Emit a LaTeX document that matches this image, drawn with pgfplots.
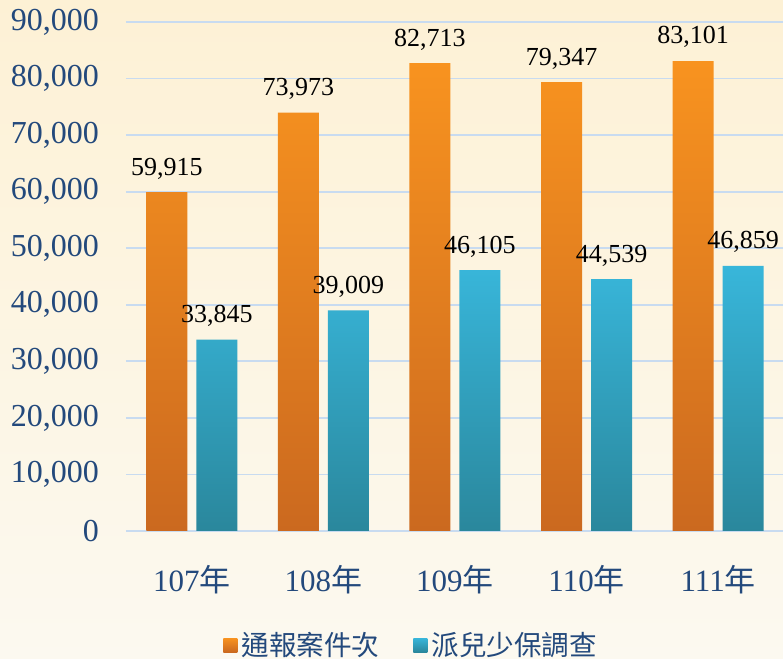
\documentclass[border=0pt]{standalone}
\usepackage{fontspec}
\setmainfont{Liberation Serif}
\newfontfamily\cjk{Noto Sans CJK TC}
\usepackage{pgfplots}
\pgfplotsset{compat=1.18}
\definecolor{tickblue}{HTML}{23497C}
\definecolor{gridblue}{HTML}{C8DBF0}
\definecolor{bgtop}{HTML}{FDF1D5}
\definecolor{bgbot}{HTML}{FCF9F0}
\definecolor{otop}{HTML}{F8931F}
\definecolor{obot}{HTML}{CB691F}
\definecolor{btop}{HTML}{38B6DA}
\definecolor{bbot}{HTML}{2A879C}
\begin{document}
\begin{tikzpicture}
\fill[top color=bgtop, bottom color=bgbot, draw=none] (0,0) rectangle (391.5pt,329.5pt);
\begin{axis}[
  at={(63pt,64pt)}, anchor=south west,
  scale only axis, width=329pt, height=254.5pt,
  xmin=-0.5, xmax=4.5, ymin=0, ymax=90000,
  axis line style={draw=none},
  major tick length=0pt,
  ymajorgrids, grid style={gridblue, line width=0.9pt},
  ytick={0,10000,...,90000},
  scaled y ticks=false,
  /pgf/number format/.cd, 1000 sep={,}, assume math mode=true, /pgfplots/.cd,
  yticklabel style={font=\fontsize{16}{18}\selectfont, text=tickblue, xshift=-10pt},
  xtick={0,1,2,3,4},
  xticklabels={107{\cjk 年},108{\cjk 年},109{\cjk 年},110{\cjk 年},111{\cjk 年}},
  xticklabel style={font=\fontsize{15.5}{18}\selectfont, text=tickblue, yshift=-13.5pt},
  ybar=4.5pt, bar width=20.5pt,
  nodes near coords,
  every node near coord/.append style={font=\fontsize{13}{15}\selectfont, text=black, yshift=3pt},
  legend style={at={(0.435,-0.224)}, anchor=center, draw=none, fill=none,
    legend columns=2, font=\cjk\fontsize{13.8}{16}\selectfont, text=tickblue,
    /tikz/every even column/.append style={column sep=15pt}},
  legend cell align=left,
  legend image code/.code={\path[#1, draw=none] (0pt,-3.5pt) rectangle (7pt,3.5pt);},
]
\addplot[draw=none, top color=otop, bottom color=obot] coordinates {(0,59915) (1,73973) (2,82713) (3,79347) (4,83101)};
\addplot[draw=none, top color=btop, bottom color=bbot] coordinates {(0,33845) (1,39009) (2,46105) (3,44539) (4,46859)};
\legend{通報案件次,派兒少保調查}
\end{axis}
\pgfresetboundingbox
\path[use as bounding box] (0,0) rectangle (391.5pt,329.5pt);
\end{tikzpicture}
\end{document}
